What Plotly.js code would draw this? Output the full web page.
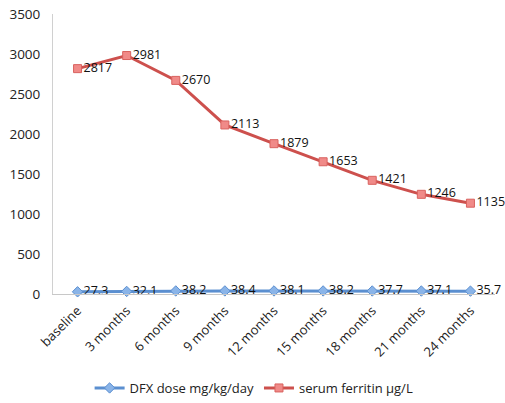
<!DOCTYPE html>
<html><head><meta charset="utf-8">
<script src="https://cdn.plot.ly/plotly-3.0.1.min.js"></script>
<style>html,body{margin:0;padding:0;background:#fff}</style>
</head><body><div id="chart" style="width:505px;height:403px"></div>
<script>
const categories = ["baseline","3 months","6 months","9 months","12 months","15 months","18 months","21 months","24 months"];
const dfxDose = [27.3,32.1,38.2,38.4,38.1,38.2,37.7,37.1,35.7];
const ferritin = [2817,2981,2670,2113,1879,1653,1421,1246,1135];
const yTicks = [0,500,1000,1500,2000,2500,3000,3500];
const font = "'Open Sans', 'Liberation Sans', sans-serif";

const traces = [
  {x: categories, y: dfxDose, name: "DFX dose mg/kg/day", type: "scatter", mode: "lines+markers+text",
   text: dfxDose.map(v => v.toFixed(1)), textposition: "middle right", cliponaxis: false,
   textfont: {family: font, size: 12.5, color: "#111"},
   line: {color: "#5b8fd0", width: 3},
   marker: {symbol: "diamond", size: 8, color: "#8ab4e8", line: {color: "#5b8fd0", width: 1}}},
  {x: categories, y: ferritin, name: "serum ferritin µg/L", type: "scatter", mode: "lines+markers+text",
   text: ferritin.map(String), textposition: "middle right", cliponaxis: false,
   textfont: {family: font, size: 12.5, color: "#111"},
   line: {color: "#cd504d", width: 3},
   marker: {symbol: "square", size: 8, color: "#f08a88", line: {color: "#d9625f", width: 1}}}
];

const layout = {
  width: 505, height: 403,
  margin: {l: 53, r: 10, t: 14, b: 109},
  paper_bgcolor: "#fff", plot_bgcolor: "#fff",
  font: {family: font, size: 13, color: "#222"},
  showlegend: true,
  legend: {orientation: "h", x: 0.455, xanchor: "center", yref: "container", y: 0, yanchor: "bottom",
           font: {family: font, size: 13, color: "#222"}, traceorder: "normal"},
  xaxis: {type: "category", range: [-0.5, 8.5], tickangle: -45, showgrid: false, automargin: false,
          showline: true, linecolor: "#c8c8c8", linewidth: 1, ticks: "outside", ticklen: 3,
          tickcolor: "rgba(0,0,0,0)", zeroline: false,
          tickfont: {family: font, size: 13, color: "#222"}},
  yaxis: {range: [0, 3500], tickvals: yTicks, showgrid: false, showline: true, automargin: false,
          linecolor: "#d0d0d0", linewidth: 1, ticks: "outside", ticklen: 9,
          tickcolor: "rgba(0,0,0,0)", zeroline: false,
          tickfont: {family: font, size: 13.5, color: "#222"}}
};
Plotly.newPlot("chart", traces, layout, {displayModeBar: false, staticPlot: true});
</script></body></html>
